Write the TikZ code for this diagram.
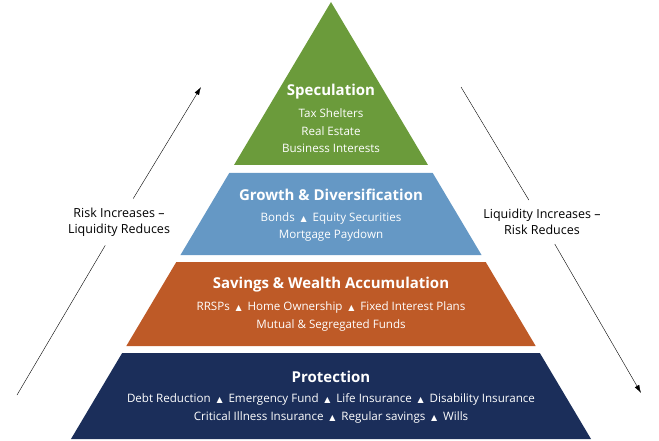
\documentclass[tikz,border=0pt]{standalone}
\usepackage{fontspec}
\setmainfont{Open Sans}
\newfontfamily\symfont{DejaVu Sans}
\usepackage{tikz}
\usetikzlibrary{arrows.meta}
\definecolor{specGreen}{RGB}{107,155,59}
\definecolor{growthBlue}{RGB}{101,152,197}
\definecolor{savingsOrange}{RGB}{190,90,39}
\definecolor{protectNavy}{RGB}{27,46,90}
\newcommand{\tri}{\enspace{\symfont\fontsize{8}{8}\selectfont ▲}\enspace}

\begin{document}
\begin{tikzpicture}[
		x=1pt, y=-1pt,
		BandTitle/.style={text=white,font=\fontsize{15}{17}\selectfont\bfseries,inner sep=0pt},
		BandText/.style={text=white,align=center,font=\fontsize{11.6}{17.5}\selectfont,inner sep=0pt},
		SideText/.style={align=center,font=\fontsize{12.5}{16}\selectfont,inner xsep=2pt,inner ysep=9pt},
		SideArrow/.style={-{Latex[length=8pt,width=5pt]},thin}
		]
		
		\useasboundingbox (0,0) rectangle (659,441);
		
		% slope of the pyramid sides, apex at (331,2)
		\pgfmathsetmacro{\Slope}{0.595}
		
		% bands: top / bottom / colour
		\foreach \Top/\Bot/\Col in {2/165/specGreen, 173/255/growthBlue, 262/346/savingsOrange, 353/439/protectNavy}{
			\fill[\Col] ({331-\Slope*(\Top-2)},\Top) -- ({331+\Slope*(\Top-2)},\Top)
			-- ({331+\Slope*(\Bot-2)},\Bot) -- ({331-\Slope*(\Bot-2)},\Bot) -- cycle;
		}
		
		% texts of the bands
		\node[BandTitle] (specTitle) at (331,92) {Speculation};
		\node[BandText] (specText) at (331,131) {Tax Shelters\\Real Estate\\Business Interests};
		
		\node[BandTitle] (growthTitle) at (331,195) {Growth \& Diversification};
		\node[BandText] (growthText) at (331,227) {Bonds\tri Equity Securities\\Mortgage Paydown};
		
		\node[BandTitle] (savingsTitle) at (331,285) {Savings \& Wealth Accumulation};
		\node[BandText] (savingsText) at (331,316.5) {RRSPs\tri Home Ownership\tri Fixed Interest Plans\\Mutual \& Segregated Funds};
		
		\node[BandTitle] (protectTitle) at (331,377) {Protection};
		\node[BandText] (protectText) at (331,408.5) {Debt Reduction\tri Emergency Fund\tri Life Insurance\tri Disability Insurance\\Critical Illness Insurance\tri Regular savings\tri Wills};
		
		% arrows on both sides
		\coordinate (riskLow) at (17,395);
		\coordinate (riskHigh) at (201,87);
		\node[SideText] (riskLabel) at (119,222) {Risk Increases --\\Liquidity Reduces};
		\draw[SideArrow] (riskLow) -- (riskLabel) (riskLabel) -- (riskHigh);
		
		\coordinate (liqHigh) at (461,87);
		\coordinate (liqLow) at (641,393);
		\node[SideText] (liqLabel) at (542,222) {Liquidity Increases --\\Risk Reduces};
		\draw[SideArrow] (liqHigh) -- (liqLabel) (liqLabel) -- (liqLow);
		
\end{tikzpicture}
\end{document}
